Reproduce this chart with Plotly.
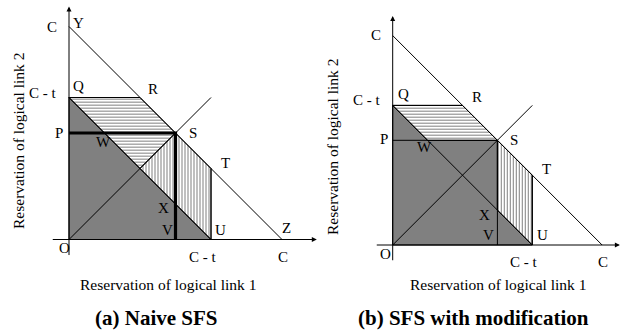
import plotly.graph_objects as go

W, H = 621, 333

# ---- model values (symbolic capacity C and threshold t) ----
capacity = [3.0, 3.0]          # C for panel (a), (b)
threshold = [1.0, 1.0]         # t for panel (a), (b)
panel_titles = ["(a) Naive SFS", "(b) SFS with modification"]
x_title = "Reservation of logical link 1"
y_title = "Reservation of logical link 2"

# pixel frame of each panel: origin px and pixels per unit
origin_px = [(69.0, 239.5), (392.7, 245.0)]
unit_px = [71.0, 69.8]
x_ranges = [(-0.5, 3.5), (-0.4, 3.265)]
y_ranges = [(-0.4, 3.35), (-0.4, 3.4)]

GRAY = "#808080"
FONT = "Liberation Serif"

fig = go.Figure()


def domains(i):
    ox, oy = origin_px[i]
    u = unit_px[i]
    xd = [(ox + x_ranges[i][0] * u) / W, (ox + x_ranges[i][1] * u) / W]
    yd = [1 - (oy - y_ranges[i][0] * u) / H, 1 - (oy - y_ranges[i][1] * u) / H]
    xd = [max(0, min(1, v)) for v in xd]
    yd = [max(0, min(1, v)) for v in yd]
    return xd, yd


def add_poly(pts, xa, ya, fill, pattern=None):
    xs = [p[0] for p in pts] + [pts[0][0]]
    ys = [p[1] for p in pts] + [pts[0][1]]
    kw = {}
    if pattern:
        kw["fillpattern"] = dict(shape=pattern, fgcolor="black", bgcolor="white",
                                 size=3, solidity=0.34)
    fig.add_trace(go.Scatter(x=xs, y=ys, mode="lines", fill="toself",
                             fillcolor=fill, line=dict(color="black", width=1),
                             xaxis=xa, yaxis=ya, hoverinfo="skip", **kw))


def add_line(pts, xa, ya, width=1):
    fig.add_trace(go.Scatter(x=[p[0] for p in pts], y=[p[1] for p in pts],
                             mode="lines", line=dict(color="black", width=width),
                             xaxis=xa, yaxis=ya, hoverinfo="skip"))


annotations = []


def label(txt, x, y, xr, yr, size=15):
    annotations.append(dict(text=txt, x=x, y=y, xref=xr, yref=yr, showarrow=False,
                            xanchor="center", yanchor="middle",
                            font=dict(family=FONT, size=size, color="black")))


for i in range(2):
    C = capacity[i]
    t = threshold[i]
    h = C / 2
    xa = "x" if i == 0 else "x2"
    ya = "y" if i == 0 else "y2"
    O = (0, 0)
    Q = (0, C - t)
    R = (t, C - t)
    S = (h, h)
    T = (C - t, t)
    U = (C - t, 0)
    P = (0, h)
    V = (h, 0)
    Wp = (h - t, h)
    X = (h, h - t)
    M = ((C - t) / 2, (C - t) / 2)

    if i == 0:
        add_poly([O, Q, U], xa, ya, GRAY)
        add_poly([Q, R, S, M], xa, ya, "white", "-")
        add_poly([M, S, T, U], xa, ya, "white", "|")
    else:
        add_poly([O, Q, Wp, S, X, U], xa, ya, GRAY)
        add_poly([Q, R, S, Wp], xa, ya, "white", "-")
        add_poly([S, T, U, X], xa, ya, "white", "|")

    # guide lines
    add_line([(0, C), (C, 0)], xa, ya)              # x + y = C
    add_line([Q, U], xa, ya)                        # x + y = C - t
    add_line([O, (C - t, C - t)], xa, ya)           # diagonal
    add_line([T, U], xa, ya)
    add_line([Q, R], xa, ya)
    add_line([P, S, V], xa, ya, width=3.2 if i == 0 else 1)

    # axes with arrows
    xr_ = x_ranges[i]
    annotations.append(dict(x=xr_[1] - 0.01, y=0, ax=-0.25, ay=0, xref=xa, yref=ya,
                            axref=xa, ayref=ya, showarrow=True, arrowhead=2,
                            arrowsize=1, arrowwidth=1, arrowcolor="black", text=""))
    annotations.append(dict(x=0, y=3.28, ax=0, ay=-0.24, xref=xa, yref=ya,
                            axref=xa, ayref=ya, showarrow=True, arrowhead=2,
                            arrowsize=1, arrowwidth=1, arrowcolor="black", text=""))

    # point labels
    if i == 0:
        pts = [("C", -0.24, 2.99), ("Y", 0.13, 3.05), ("C - t", -0.37, 2.06),
               ("Q", 0.14, 2.16), ("R", 1.18, 2.12), ("P", -0.14, 1.50),
               ("S", 1.75, 1.50), ("W", 0.48, 1.37), ("T", 2.21, 1.08),
               ("X", 1.33, 0.44), ("V", 1.39, 0.13), ("U", 2.14, 0.13),
               ("Z", 3.07, 0.16), ("O", -0.06, -0.12), ("C - t", 1.89, -0.25),
               ("C", 3.01, -0.25)]
    else:
        pts = [("C", -0.24, 3.01), ("C - t", -0.37, 2.08),
               ("Q", 0.15, 2.16), ("R", 1.21, 2.12), ("P", -0.12, 1.52),
               ("S", 1.74, 1.50), ("W", 0.46, 1.40), ("T", 2.20, 1.09),
               ("X", 1.32, 0.43), ("V", 1.37, 0.14), ("U", 2.15, 0.14),
               ("O", -0.10, -0.13), ("C - t", 1.885, -0.24), ("C", 3.01, -0.24)]
    for txt, px, py in pts:
        label(txt, px, py, xa, ya)

# axis / panel titles in paper coords (pixel positions)
title_pos = [((168, 284), (156, 318), (18, 141)), ((498, 284), (473, 318), (333, 147))]
for i in range(2):
    (xtx, xty), (ttx, tty), (ytx, yty) = title_pos[i]
    annotations.append(dict(text=x_title, x=xtx / W, y=1 - xty / H, xref="paper", yref="paper",
                            showarrow=False, xanchor="center", yanchor="middle",
                            font=dict(family=FONT, size=15.5, color="black")))
    annotations.append(dict(text="<b>" + panel_titles[i] + "</b>", x=ttx / W, y=1 - tty / H,
                            xref="paper", yref="paper", showarrow=False,
                            xanchor="center", yanchor="middle",
                            font=dict(family=FONT, size=21, color="black")))
    annotations.append(dict(text=y_title, x=ytx / W, y=1 - yty / H, xref="paper", yref="paper",
                            showarrow=False, xanchor="center", yanchor="middle", textangle=-90,
                            font=dict(family=FONT, size=15.5, color="black")))

xd0, yd0 = domains(0)
xd1, yd1 = domains(1)
ax_common = dict(visible=False, showgrid=False, zeroline=False, fixedrange=True)
fig.update_layout(
    width=W, height=H, margin=dict(l=0, r=0, t=0, b=0),
    paper_bgcolor="white", plot_bgcolor="white", showlegend=False,
    xaxis=dict(domain=xd0, range=list(x_ranges[0]), anchor="y", **ax_common),
    yaxis=dict(domain=yd0, range=list(y_ranges[0]), anchor="x", **ax_common),
    xaxis2=dict(domain=xd1, range=list(x_ranges[1]), anchor="y2", **ax_common),
    yaxis2=dict(domain=yd1, range=list(y_ranges[1]), anchor="x2", **ax_common),
    annotations=annotations,
)

fig.write_html("out.html")
